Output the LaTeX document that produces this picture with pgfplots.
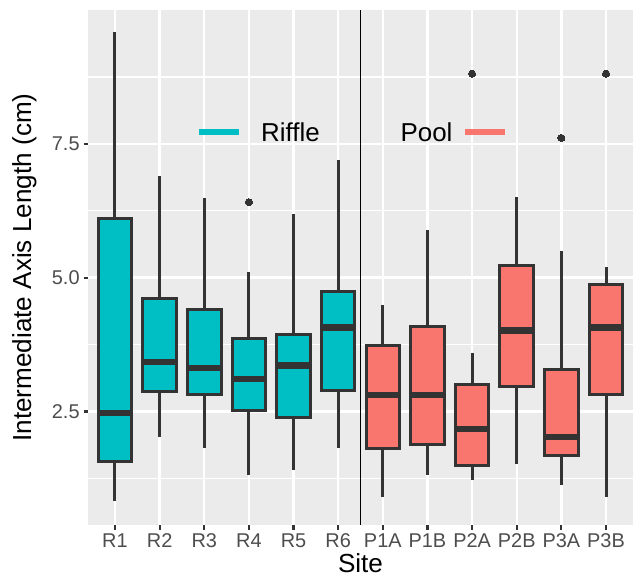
\documentclass[border=0pt]{standalone}
\usepackage{fontspec}
\setmainfont{Liberation Sans}
\usepackage{pgfplots}
\pgfplotsset{compat=1.18}
\usepgfplotslibrary{statistics}

\definecolor{riffle}{HTML}{00BFC4}
\definecolor{pool}{HTML}{F8766D}
\definecolor{panelbg}{HTML}{EBEBEB}
\definecolor{edge}{HTML}{333333}
\definecolor{ticktext}{HTML}{4D4D4D}

\pgfplotsset{
  sitebox/.style={
    draw=edge, line width=1.5bp, solid,
    boxplot/draw direction=y,
    boxplot/box extend=0.75,
    boxplot/whisker extend=0,
    boxplot/every median/.style={line width=3.2bp},
    mark=*, mark size=1.8bp,
    mark options={draw=edge, fill=edge, line width=0pt},
  },
}

\begin{document}
\begin{tikzpicture}
\begin{axis}[
  at={(0,0)}, anchor=south west,
  scale only axis,
  width=272.3bp, height=257.5bp,
  xmin=0.4, xmax=12.6,
  ymin=0.38, ymax=10.0,
  axis background/.style={fill=panelbg},
  axis line style={draw=none},
  xtick={1,...,12},
  xticklabels={R1,R2,R3,R4,R5,R6,P1A,P1B,P2A,P2B,P3A,P3B},
  ytick={2.5,5,7.5},
  minor ytick={1.25,3.75,6.25,8.75},
  /pgf/number format/fixed,
  /pgf/number format/fixed zerofill,
  /pgf/number format/precision=1,
  /pgf/number format/assume math mode=true,
  xmajorgrids, ymajorgrids, yminorgrids,
  major grid style={white, line width=1.2bp},
  minor grid style={white, line width=0.6bp},
  tick align=outside,
  xtick pos=left, ytick pos=left,
  major tick length=2.3bp, minor tick length=0pt,
  tick style={draw=edge, line width=1.1bp},
  ticklabel style={font=\fontsize{10}{12}\selectfont, text=ticktext, inner sep=0pt},
  xticklabel style={anchor=north, yshift=-1.7bp},
  yticklabel style={anchor=east, xshift=-1.8bp},
  xlabel={Site},
  ylabel={Intermediate Axis Length (cm)},
  label style={font=\fontsize{13.1}{15}\selectfont, text=black, inner sep=0pt},
  xlabel style={at={(axis description cs:0.5,-0.0913)}, anchor=base},
  ylabel style={at={(axis description cs:-0.105,0.5)}, anchor=base},
  clip=true,
]

% riffle sites
\addplot[sitebox, fill=riffle, boxplot prepared={draw position=1,
  lower whisker=0.82, lower quartile=1.56, median=2.47, upper quartile=6.11, upper whisker=9.59}]
  coordinates {};
\addplot[sitebox, fill=riffle, boxplot prepared={draw position=2,
  lower whisker=2.02, lower quartile=2.87, median=3.42, upper quartile=4.62, upper whisker=6.89}]
  coordinates {};
\addplot[sitebox, fill=riffle, boxplot prepared={draw position=3,
  lower whisker=1.82, lower quartile=2.82, median=3.31, upper quartile=4.40, upper whisker=6.49}]
  coordinates {};
\addplot[sitebox, fill=riffle, boxplot prepared={draw position=4,
  lower whisker=1.32, lower quartile=2.51, median=3.11, upper quartile=3.86, upper whisker=5.10}]
  table[row sep=\\, y index=0] {v\\ 6.41\\};
\addplot[sitebox, fill=riffle, boxplot prepared={draw position=5,
  lower whisker=1.40, lower quartile=2.39, median=3.36, upper quartile=3.94, upper whisker=6.19}]
  coordinates {};
\addplot[sitebox, fill=riffle, boxplot prepared={draw position=6,
  lower whisker=1.81, lower quartile=2.89, median=4.07, upper quartile=4.75, upper whisker=7.19}]
  coordinates {};

% pool sites
\addplot[sitebox, fill=pool, boxplot prepared={draw position=7,
  lower whisker=0.91, lower quartile=1.80, median=2.81, upper quartile=3.73, upper whisker=4.49}]
  coordinates {};
\addplot[sitebox, fill=pool, boxplot prepared={draw position=8,
  lower whisker=1.32, lower quartile=1.89, median=2.81, upper quartile=4.08, upper whisker=5.89}]
  coordinates {};
\addplot[sitebox, fill=pool, boxplot prepared={draw position=9,
  lower whisker=1.22, lower quartile=1.49, median=2.17, upper quartile=3.01, upper whisker=3.60}]
  table[row sep=\\, y index=0] {v\\ 8.81\\};
\addplot[sitebox, fill=pool, boxplot prepared={draw position=10,
  lower whisker=1.52, lower quartile=2.97, median=4.01, upper quartile=5.22, upper whisker=6.50}]
  coordinates {};
\addplot[sitebox, fill=pool, boxplot prepared={draw position=11,
  lower whisker=1.13, lower quartile=1.67, median=2.02, upper quartile=3.28, upper whisker=5.50}]
  table[row sep=\\, y index=0] {v\\ 7.61\\};
\addplot[sitebox, fill=pool, boxplot prepared={draw position=12,
  lower whisker=0.91, lower quartile=2.82, median=4.07, upper quartile=4.87, upper whisker=5.19}]
  table[row sep=\\, y index=0] {v\\ 8.81\\};

% divider between riffle and pool sites
\addplot[black, line width=0.65bp] coordinates {(6.5,0.38) (6.5,10.0)};

% in-panel key
\addplot[riffle, line width=3.2bp, line cap=butt] coordinates {(2.88,7.72) (3.78,7.72)};
\addplot[pool, line width=3.2bp, line cap=butt] coordinates {(8.84,7.72) (9.74,7.72)};
\node[font=\fontsize{13}{15}\selectfont, inner sep=0pt] at (axis cs:4.93,7.72) {Riffle};
\node[font=\fontsize{13}{15}\selectfont, inner sep=0pt] at (axis cs:7.98,7.72) {Pool};

\end{axis}
\pgfresetboundingbox
\path[use as bounding box] (-44.1bp,-26.5bp) rectangle (272.4bp,262.5bp);
\end{tikzpicture}
\end{document}
